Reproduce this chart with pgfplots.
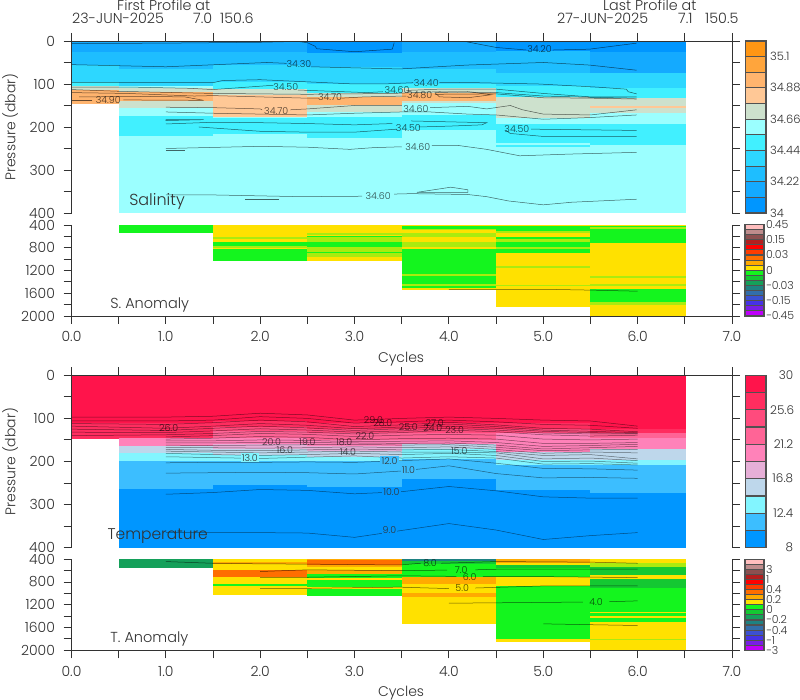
\documentclass[border=0pt]{standalone}
\usepackage{fontspec}
\setmainfont{Poppins}[UprightFont=* Light]
\usepackage{pgfplots}
\usepackage{pgfplotstable}
\pgfplotsset{compat=1.18}

% salinity colours
\definecolor{s0}{RGB}{0,150,255}
\definecolor{s1}{RGB}{20,170,255}
\definecolor{s2}{RGB}{30,190,255}
\definecolor{s3}{RGB}{45,215,255}
\definecolor{s4}{RGB}{65,240,255}
\definecolor{s5}{RGB}{155,255,255}
\definecolor{s6}{RGB}{205,225,205}
\definecolor{s7}{RGB}{255,200,150}
\definecolor{s8}{RGB}{255,180,110}
\definecolor{s9}{RGB}{255,165,60}
\definecolor{s10}{RGB}{255,150,20}
% temperature colours
\definecolor{t0}{RGB}{0,150,255}
\definecolor{t1}{RGB}{60,190,255}
\definecolor{t2}{RGB}{130,245,255}
\definecolor{t3}{RGB}{190,215,235}
\definecolor{t4}{RGB}{230,175,215}
\definecolor{t5}{RGB}{255,130,185}
\definecolor{t6}{RGB}{255,100,150}
\definecolor{t7}{RGB}{255,75,125}
\definecolor{t8}{RGB}{255,45,95}
\definecolor{t9}{RGB}{255,20,75}
% anomaly colours
\definecolor{a0}{RGB}{190,0,250}
\definecolor{a1}{RGB}{120,30,230}
\definecolor{a2}{RGB}{70,50,230}
\definecolor{a3}{RGB}{60,80,210}
\definecolor{a4}{RGB}{50,110,170}
\definecolor{a5}{RGB}{30,130,130}
\definecolor{a6}{RGB}{20,160,90}
\definecolor{a7}{RGB}{20,200,50}
\definecolor{a8}{RGB}{20,245,30}
\definecolor{a9}{RGB}{255,225,0}
\definecolor{a10}{RGB}{255,170,0}
\definecolor{a11}{RGB}{255,110,0}
\definecolor{a12}{RGB}{255,60,0}
\definecolor{a13}{RGB}{255,0,0}
\definecolor{a14}{RGB}{180,30,30}
\definecolor{a15}{RGB}{140,80,80}
\definecolor{a16}{RGB}{190,140,140}
\definecolor{a17}{RGB}{255,190,190}
\definecolor{mm}{RGB}{170,235,15}
\definecolor{txt}{RGB}{50,50,50}

% one column of horizontal bands: x0, x1, {top/bottom/colour,...}
\newcommand{\col}[3]{\foreach \ya/\yb/\cc in {#3}{%
  \edef\temp{\noexpand\addplot[fill=\cc,draw=\cc,line width=0.1pt,forget plot]
    coordinates {(#1,\ya)(#2,\ya)(#2,\yb)(#1,\yb)} --cycle;}\temp}}
% colour bar boxes
\newcommand{\cb}[1]{\foreach \ya/\cc in {#1}{%
  \pgfmathtruncatemacro\yb{\ya+1}%
  \edef\temp{\noexpand\addplot[fill=\cc,draw=txt!85,line width=1.1pt,forget plot]
    coordinates {(0,\ya)(1,\ya)(1,\yb)(0,\yb)} --cycle;}\temp}}
\newcommand{\ctr}[1]{\addplot[black,opacity=0.6,line width=0.5pt,forget plot] coordinates {#1};}
\newcommand{\lab}[3]{\node[font=\fontsize{9.5}{10}\selectfont,text=black,opacity=0.7,inner sep=0pt] at (axis cs:#1,#2) {#3};}
\newcommand{\labf}[4]{\node[font=\fontsize{9.5}{10}\selectfont,text=black!80,fill=#4,inner sep=1.2pt] at (axis cs:#1,#2) {#3};}
\newcommand{\fnt}[1]{\fontsize{#1}{#1}\selectfont}
% ticks above the upper panels, as a comb on a thin hidden axis
\newcommand{\topticks}[1]{\begin{axis}[scale only axis, width=660.5pt, height=8pt, hide axis,
    xmin=0, xmax=7, ymin=0, ymax=1, at={(71.5pt,#1)}, anchor=south west]
  \addplot[ycomb, txt, line width=1pt] coordinates {(0,1)(0.5,1)(1,1)(1.5,1)(2,1)(2.5,1)(3,1)(3.5,1)(4,1)(4.5,1)(5,1)(5.5,1)(6,1)(6.5,1)(7,1)};
\end{axis}}

\pgfplotsset{
  field/.style={
    scale only axis, width=660.5pt, axis on top,
    xmin=0, xmax=7, y dir=reverse, clip=true,
    xtick={0,...,7}, minor xtick={0.5,1.5,2.5,3.5,4.5,5.5,6.5},
    major tick length=8pt, minor tick length=8pt,
    tick align=outside, yticklabel pos=left,
    axis line style={txt,line width=0.9pt},
    every tick/.style={txt,line width=0.9pt},
    every minor tick/.style={txt,line width=0.9pt},
    tick label style={font=\fnt{14},text=txt},
    yticklabel style={xshift=-5pt},
    label style={font=\fnt{14},text=txt},
    /pgf/number format/assume math mode=true,
    /pgf/number format/1000 sep={},
    /pgf/number format/fixed,
  },
  upper/.style={field, height=172pt, ymin=0, ymax=400,
    axis x line*=top, axis y line*=box,
    xticklabel=\empty, ytick={0,100,200,300,400}, minor ytick={50,150,250,350},
    ylabel={Pressure (dbar)},
    ylabel style={at={(axis description cs:-0.093,0.5)},anchor=center}},
  lower/.style={field, height=91pt, ymin=400, ymax=2000,
    axis x line*=bottom, axis y line*=box,
    xticklabels={0.0,1.0,2.0,3.0,4.0,5.0,6.0,7.0},
    xticklabel style={yshift=-4pt},
    ytick={400,800,1200,1600,2000}, minor ytick={600,1000,1400,1800},
    xlabel={Cycles},
    xlabel style={at={(axis description cs:0.499,-0.47)},anchor=center}},
  cbar/.style={
    scale only axis, xmin=0, xmax=1, ymin=0,
    axis x line=none, axis y line*=right,
    y axis line style={draw=none}, major tick length=0pt,
    ytick pos=right, clip=false,
    y tick label style={font=\fnt{#1},text=txt,anchor=west,inner sep=0pt},
  },
}

% isotherms, read at the plotted cycles
\pgfplotstableread{
x T29 T28 T27 T26 T25 T24 T23 T22 T21 T20 T19 T18 T17 T16 T15 T14 T13 T12 T11 T10 T9
0 97 106 112 118 125 132 140 nan nan nan nan nan nan nan nan nan nan nan nan nan nan
1 97 106 114 123 128 133 138 143 148 152 157 162 167 172 176 181 189 203 227 276 365
1.5 95 104 110 118 123 129 135 140 146 152 157 163 168 174 178 184 191 202 226 272 365
2 88 96 104 112 118 124 130 135 142 150 156 162 169 175 180 186 193 202 225 265 365
2.5 92 100 108 116 122 127 132 137 144 151 156 161 168 173 178 184 190 201 226 267 366
3 104 111 119 124 128 132 136 142 150 154 157 160 166 171 176 181 187 202 229 275 376
3.5 100 108 115 120 124 129 133 139 147 153 158 162 168 173 178 184 192 198 222 270 360
4 97 104 109 113 118 123 127 137 146 152 157 161 166 172 178 181 189 194 210 258 344
4.5 100 108 115 119 123 127 131 139 148 156 162 167 172 177 180 186 192 204 228 268 359
5 104 114 123 127 130 134 138 148 158 165 171 175 181 186 194 200 206 216 238 282 381
5.5 106 116 125 130 133 136 141 150 158 163 168 173 178 184 192 199 205 217 237 285 372
6 118 123 131 133 135 136 139 148 156 160 165 172 180 194 198 204 208 220 239 285 365
}\isotherms

\begin{document}
\begin{tikzpicture}[x=1pt,y=1pt]
\path[use as bounding box] (0,0) rectangle (800,700);

% ---- salinity
\begin{axis}[upper, at={(71.5pt,487pt)}, anchor=south west]
\col{0}{0.5}{0/25/s1,25/55/s2,55/95/s3,95/105/s4,105/115/s6,115/145/s8}
\col{0.5}{1.5}{0/25/s1,25/65/s2,65/105/s3,105/110/s5,110/118/s6,118/140/s8,140/157/s6,157/175/s5,175/222/s4,222/403/s5}
\col{1.5}{2.5}{0/25/s1,25/55/s2,55/95/s3,95/112/s4,112/125/s6,125/176/s7,176/180/s5,180/217/s4,217/403/s5}
\col{2.5}{3.5}{0/27/s0,27/60/s2,60/100/s3,100/120/s4,120/130/s6,130/150/s8,150/165/s6,165/178/s5,178/225/s4,225/403/s5}
\col{3.5}{4.5}{0/25/s1,25/65/s2,65/100/s3,100/110/s4,110/120/s6,120/140/s8,140/145/s6,145/172/s5,172/207/s4,207/403/s5}
\col{4.5}{5.5}{0/23/s0,23/75/s2,75/105/s3,105/130/s4,130/180/s6,180/192/s5,192/238/s4,238/242/s5,242/246/s4,246/403/s5}
\col{5.5}{6.5}{0/25/s0,25/75/s1,75/110/s3,110/133/s4,133/152/s6,152/155/s7,155/168/s6,168/192/s5,192/242/s4,242/403/s5}
\ctr{(0,6)(1,5)(2,3)(2.4,1)(2.5,4)(2.58,12)(2.6,18)(3,25)(3.4,19)(3.42,4)}
\ctr{(4.19,2)(4.5,15)(4.82,21)}
\ctr{(5.1,21)(5.49,19)(5.99,5)}
\ctr{(0,55)(1,60)(2.07,50)(2.28,52)}
\ctr{(2.54,60)(3.48,65)(4.19,56)(5,50)(5.49,56)(5.99,68)}
\ctr{(0,97)(1.5,97)(1.6,92)(2,90)(2.5,95)(3,100)(3.3,100)(3.62,97)}
\ctr{(3.9,96)(4.3,97)(4.95,100)(5.55,107)(5.88,112)(5.9,118)(5.99,123)}
\ctr{(0,107)(0.58,107)(1.25,110)(1.5,113)(2.07,104)(2.14,104)}
\ctr{(2.4,114)(3.13,120)(3.3,118)}
\ctr{(3.55,115)(3.9,112)(4.5,112)(5,122)(5.5,130)(5.99,130)}
\ctr{(0,113)(0.5,117)(1.5,122)(2.5,124)(3.4,122)(3.9,118)(4.5,120)(5,128)(5.5,131)(5.99,133)}
\ctr{(0,120)(0.6,122)(1.3,128)(1.5,127)(2.5,133)(2.62,133)}
\ctr{(2.86,133)(3.1,130)(3.55,128)}
\ctr{(3.85,124)(4.5,123)(5,132)(5.5,133)(5.99,135)}
\ctr{(0.08,130)(0.8,129)(1.2,130)(1.4,138)(0.55,137)}
\ctr{(0.22,138)(0,138)}
\ctr{(3.85,120)(4.2,118)(4.45,125)(4.2,132)(3.9,130)(3.85,120)}
\ctr{(1,154)(1.5,155)(2,158)(2.02,160)}
\ctr{(2.32,160)(2.5,158)(3,150)(3.5,150)}
\ctr{(3.8,155)(4.2,152)(4.4,158)(4.65,150)(4.78,160)(5,170)(5.5,172)(5.99,160)}
\ctr{(1,165)(1.5,168)(2.5,172)(3,168)(3.5,165)(3.8,165)(4.2,170)(4.5,172)(5,182)(5.5,178)(5.99,172)}
\ctr{(1,183)(1.4,183)(1,185)(1,183)}
\ctr{(1,193)(1.5,189)(2,190)(2.5,192)(3,195)(3.4,192)}
\ctr{(1.35,200)(2,210)(2.5,212)(3,212)(3.45,205)}
\ctr{(3.68,200)(4,198)(4.35,195)(4.4,190)(4,188)(3.6,186)}
\ctr{(4.87,205)(5.99,208)}
\ctr{(4.6,207)(4.65,215)(5,222)(5.99,222)}
\ctr{(1,250)(2,245)(2.5,247)(2.95,252)(3.2,248)(3.5,246)}
\ctr{(3.82,243)(4.1,243)(4.4,252)(4.75,267)(5.28,263)(5.99,259)}
\ctr{(1,253)(1.2,253)}
\ctr{(1,358)(1.5,358)(2.42,362)(3.08,361)}
\ctr{(3.42,356)(3.6,355)(4.2,357)(4.4,362)(4.63,372)(5,381)(5.3,375)(5.99,368)}
\ctr{(3.66,352)(4.02,340)(4.2,346)(4.2,352)(3.66,352)}
\ctr{(1.84,368)(2.2,368)}
\lab{0.39}{137}{34.90}\lab{2.41}{54}{34.30}\lab{2.27}{108}{34.50}
\lab{2.74}{130}{34.70}\lab{2.17}{162}{34.70}\lab{3.45}{114}{34.60}
\lab{3.76}{98}{34.40}\lab{3.69}{126}{34.80}\lab{3.65}{159}{34.60}
\lab{3.57}{202}{34.50}\lab{4.72}{205}{34.50}\lab{3.67}{246}{34.60}
\lab{3.25}{360}{34.60}\lab{4.96}{19}{34.20}
\node[font=\fnt{16},text=txt,anchor=west,inner sep=0pt] at (axis cs:0.61,374) {Salinity};
\end{axis}
\topticks{659pt}

% ---- salinity anomaly
\begin{axis}[lower, at={(71.5pt,384pt)}, anchor=south west]
\col{0.5}{1.5}{400/530/a8}
\col{1.5}{2.5}{400/465/a9,465/480/a8,480/620/a9,620/650/mm,650/700/a9,700/770/a8,770/800/mm,800/830/a9,830/1020/a8}
\col{2.5}{3.5}{400/540/a9,540/570/mm,570/600/a9,600/620/a8,620/700/mm,700/780/a8,780/870/mm,870/900/a8,900/960/mm,960/1020/a9}
\col{3.5}{4.5}{400/420/a9,420/470/a8,470/490/mm,490/540/a9,540/620/mm,620/700/a9,700/790/mm,790/820/a9,820/1270/a8,1270/1290/mm,1290/1430/a8,1430/1480/mm,1480/1505/a8,1505/1530/a9}
\col{4.5}{5.5}{400/420/a9,420/510/a8,510/540/mm,540/610/a9,610/640/a8,640/700/mm,700/780/a8,780/830/mm,830/890/a8,890/1130/a9,1130/1160/mm,1160/1450/a9,1450/1480/mm,1480/1830/a9}
\col{5.5}{6.5}{400/420/a9,420/440/a8,440/470/mm,470/720/a8,720/1300/a9,1300/1330/mm,1330/1440/a9,1440/1480/mm,1480/1520/a9,1520/1760/a8,1760/1810/mm,1810/2010/a9}
\ctr{(4,1530)(5,1530)(5.5,1545)(6,1564)}
\node[font=\fnt{14.5},text=txt,anchor=west,inner sep=0pt] at (axis cs:0.41,1810) {S. Anomaly};
\end{axis}

% ---- temperature
\begin{axis}[upper, at={(71.5pt,152.3pt)}, anchor=south west, height=172.4pt]
\col{0}{0.5}{0/110/t9,110/145/t8}
\col{0.5}{1.5}{0/110/t9,110/145/t8,145/165/t5,165/181/t3,181/198/t2,198/264/t1,264/403/t0}
\col{1.5}{2.5}{0/105/t9,105/120/t8,120/130/t7,130/145/t6,145/160/t5,160/170/t4,170/185/t3,185/198/t2,198/255/t1,255/403/t0}
\col{2.5}{3.5}{0/110/t9,110/125/t8,125/135/t7,135/150/t6,150/165/t5,165/175/t4,175/190/t3,190/200/t2,200/260/t1,260/403/t0}
\col{3.5}{4.5}{0/110/t9,110/125/t8,125/135/t7,135/150/t6,150/160/t5,160/170/t3,170/194/t2,194/240/t1,240/403/t0}
\col{4.5}{5.5}{0/110/t9,110/125/t8,125/135/t7,135/178/t5,178/197/t3,197/208/t2,208/266/t1,266/403/t0}
\col{5.5}{6.5}{0/125/t9,125/135/t8,135/146/t6,146/170/t5,170/197/t3,197/208/t2,208/274/t1,274/403/t0}
\pgfplotsinvokeforeach{T29,T28,T27,T26,T25,T24,T23,T22,T21,T20,T19,T18,T17,T16,T15,T14,T13,T12,T11,T10,T9}{
  \addplot[black,opacity=0.5,line width=0.5pt,unbounded coords=jump,forget plot] table[x=x,y=#1] {\isotherms};
}
\lab{3.2}{104}{29.0}\lab{3.3}{111}{28.0}\lab{3.85}{111}{27.0}\lab{1.03}{123}{26.0}
\lab{3.57}{121}{25.0}\lab{3.83}{123}{24.0}\lab{4.06}{127}{23.0}\lab{3.11}{140}{22.0}
\lab{2.12}{155}{20.0}\lab{2.5}{155}{19.0}\lab{2.89}{155}{18.0}\lab{2.26}{173}{16.0}
\lab{4.11}{176}{15.0}\lab{2.93}{179}{14.0}
\labf{1.89}{191}{13.0}{t2}\labf{3.37}{199}{12.0}{t1}\labf{3.57}{220}{11.0}{t1}
\labf{3.39}{272}{10.0}{t0}\labf{3.37}{360}{9.0}{t0}
\node[font=\fnt{15.5},text=txt,anchor=west,inner sep=0pt] at (axis cs:0.38,373) {Temperature};
\end{axis}
\topticks{324.7pt}

% ---- temperature anomaly
\begin{axis}[lower, at={(71.5pt,49.7pt)}, anchor=south west]
\col{0.5}{1.5}{400/530/a6}
\col{1.5}{2.5}{400/450/a9,450/490/a10,490/587/a9,587/716/a11,716/830/a9,830/870/a8,870/1015/a9}
\col{2.5}{3.5}{400/420/a10,420/500/a11,500/530/a10,530/590/a9,590/660/a10,660/730/a8,730/770/a9,770/880/a8,880/920/a9,920/1020/a8}
\col{3.5}{4.5}{400/430/a5,430/480/a7,480/720/a8,720/840/a10,840/1000/a9,1000/1065/a10,1065/1525/a9}
\col{4.5}{5.5}{400/460/a10,460/500/a9,500/560/a7,560/720/a8,720/870/a9,870/1805/a8,1805/1830/a9}
\col{5.5}{6.5}{400/460/a9,460/530/mm,530/680/a7,680/740/a9,740/910/a7,910/1320/a8,1320/1350/a9,1350/1400/a8,1400/1440/a9,1440/1500/a8,1500/1800/a9,1800/1820/mm,1820/2010/a9}
\ctr{(1,440)(1.5,470)(2,480)(2.5,485)(3.48,500)(3.7,470)}
\ctr{(3.92,470)(4.5,440)(5.5,450)(6,470)}
\ctr{(2,615)(2.5,585)(3.48,600)(3.98,590)}
\ctr{(4.28,585)(4.5,575)(5.5,575)(6,575)}
\ctr{(2,716)(2.5,716)(3.48,690)(4.08,700)}
\ctr{(4.36,705)(5,705)(6,722)}
\ctr{(2,910)(2.5,910)(3.48,890)(4,915)}
\ctr{(4.28,905)(5,868)(6,868)}
\ctr{(4,1172)(5.42,1152)}
\ctr{(5.7,1146)(6,1131)}
\ctr{(5,1535)(5.5,1550)(6,1564)}
\lab{3.8}{465}{8.0}\lab{4.13}{587}{7.0}\lab{4.22}{705}{6.0}\lab{4.14}{910}{5.0}\lab{5.56}{1149}{4.0}
\node[font=\fnt{14.5},text=txt,anchor=west,inner sep=0pt] at (axis cs:0.41,1810) {T. Anomaly};
\end{axis}

% ---- colour bars
\begin{axis}[cbar=11.5, at={(745.7pt,487pt)}, anchor=south west, width=20.3pt, height=172pt, ymax=11,
  ytick={0,2,4,6,8,10}, yticklabels={34,34.22,34.44,34.66,34.88,35.1}, yticklabel shift=4pt]
\cb{0/s0,1/s1,2/s2,3/s3,4/s4,5/s5,6/s6,7/s7,8/s8,9/s9,10/s10}
\end{axis}
\begin{axis}[cbar=11, at={(745pt,384pt)}, anchor=south west, width=19pt, height=91.5pt, ymax=18,
  ytick={0,3,6,9,12,15,18}, yticklabels={−0.45,−0.15,−0.03,0,0.03,0.15,0.45}, yticklabel shift=2pt]
\cb{0/a0,1/a1,2/a2,3/a3,4/a4,5/a5,6/a6,7/a7,8/a8,9/a9,10/a10,11/a11,12/a12,13/a13,14/a14,15/a15,16/a16,17/a17}
\end{axis}
\begin{axis}[cbar=12, at={(745.7pt,152.3pt)}, anchor=south west, width=20.3pt, height=172.4pt, ymax=10,
  ytick={0,2,4,6,8,10}, yticklabels={8,12.4,16.8,21.2,25.6,30}, yticklabel shift=4pt,
  y tick label style={text width=23pt,align=right}]
\cb{0/t0,1/t1,2/t2,3/t3,4/t4,5/t5,6/t6,7/t7,8/t8,9/t9}
\end{axis}
\begin{axis}[cbar=11, at={(745pt,49.7pt)}, anchor=south west, width=19pt, height=91pt, ymax=18,
  ytick={0,2,...,18}, yticklabels={−3,−1,−0.4,−0.2,0,0.2,0.4,1,3}, yticklabel shift=2pt]
\cb{0/a0,1/a1,2/a2,3/a3,4/a4,5/a5,6/a6,7/a7,8/a8,9/a9,10/a10,11/a11,12/a12,13/a13,14/a14,15/a15,16/a16,17/a17}
\end{axis}

% ---- header text
\begin{scope}[every node/.style={font=\fnt{14.3},text=txt,anchor=west,inner sep=0pt}]
\node at (117,694.5) {First Profile at};
\node at (72,681.5) {23-JUN-2025};
\node at (193,681.5) {7.0};
\node at (220,681.5) {150.6};
\node at (603,694.5) {Last Profile at};
\node at (557,681.5) {27-JUN-2025};
\node at (678,681.5) {7.1};
\node at (705,681.5) {150.5};
\end{scope}
\end{tikzpicture}
\end{document}
